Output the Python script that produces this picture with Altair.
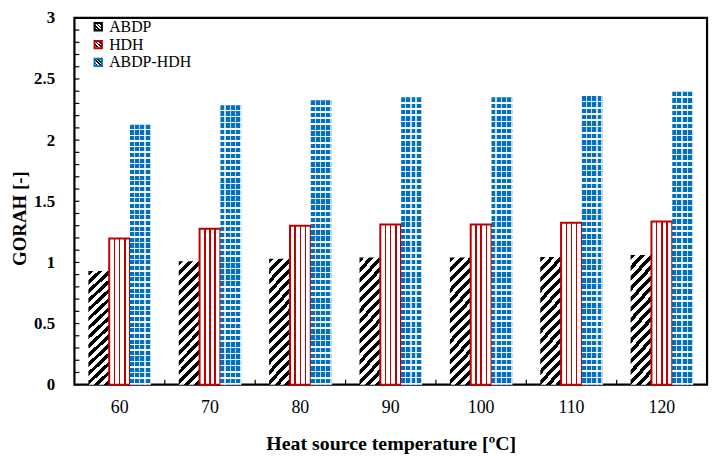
import altair as alt
import pandas as pd

temps = [60, 70, 80, 90, 100, 110, 120]
series = ["ABDP", "HDH", "ABDP-HDH"]
abdp = [0.93, 1.01, 1.03, 1.04, 1.04, 1.045, 1.06]
hdh = [1.195, 1.275, 1.30, 1.31, 1.31, 1.325, 1.335]
combo = [2.125, 2.285, 2.325, 2.35, 2.35, 2.36, 2.395]
y_tick_vals = [0.0, 0.1, 0.2, 0.3, 0.4, 0.5, 0.6, 0.7, 0.8, 0.9, 1.0,
               1.1, 1.2, 1.3, 1.4, 1.5, 1.6, 1.7, 1.8, 1.9, 2.0,
               2.1, 2.2, 2.3, 2.4, 2.5, 2.6, 2.7, 2.8, 2.9, 3.0]
y_label_vals = [0, 0.5, 1, 1.5, 2, 2.5, 3]
x_tick_cats = [70, 80, 90, 100, 110, 120]

rows = []
for name, vals in zip(series, [abdp, hdh, combo]):
    for t, v in zip(temps, vals):
        rows.append({"temp": t, "series": name, "value": v})
df = pd.DataFrame(rows)

BLUE = "#0070C0"
RED = "#C00000"
FONT = "Liberation Serif"
TOP = 8
W, H = 638, 370


def stripe_stops(c_on, c_off, periods, frac):
    stops = []
    for k in range(periods):
        a = k / periods
        b = (k + frac) / periods
        c = (k + 1) / periods
        stops += [{"offset": a, "color": c_on}, {"offset": b, "color": c_on},
                  {"offset": b, "color": c_off}, {"offset": c, "color": c_off}]
    return stops


abdp_fill = {"gradient": "linear", "x1": 0, "y1": 0, "x2": 0.2, "y2": 1.17,
             "stops": stripe_stops("black", "white", 15, 0.5)}

hdh_stops = []
for c in [0.0, 0.25, 0.5, 0.75, 1.0]:
    a = max(0.0, c - 0.035)
    b = min(1.0, c + 0.035)
    if hdh_stops:
        hdh_stops.append({"offset": a, "color": "white"})
    hdh_stops += [{"offset": a, "color": RED}, {"offset": b, "color": RED}]
    if b < 1.0:
        hdh_stops.append({"offset": b, "color": "white"})
hdh_fill = {"gradient": "linear", "x1": 0, "y1": 0, "x2": 1, "y2": 0, "stops": hdh_stops}

blue_a_fill = {"gradient": "linear", "x1": 0, "y1": 0, "x2": 0, "y2": 1,
               "stops": stripe_stops(BLUE, "white", 46, 0.72)}
blue_b_fill = {"gradient": "linear", "x1": 0, "y1": 0, "x2": 1, "y2": 0,
               "stops": stripe_stops("rgba(255,255,255,0)", "rgba(255,255,255,0.75)", 4, 0.75)}

x_enc = alt.X("temp:O", scale=alt.Scale(domain=temps, paddingInner=0, paddingOuter=0),
              axis=alt.Axis(title="Heat source temperature [ºC]", labelAngle=0,
                            labelFontSize=18, labelFont=FONT, labelPadding=14,
                            titleFont=FONT, titleFontSize=20, titleFontWeight="bold",
                            titlePadding=17, ticks=False, domain=False, grid=False,
                            labelColor="black", titleColor="black"))
y_enc = alt.Y("value:Q", scale=alt.Scale(domain=[0, 3], nice=False),
              axis=alt.Axis(title="GORAH [-]", values=y_label_vals, format="~g",
                            labelFontSize=17, labelFont=FONT, labelFontWeight="bold",
                            labelPadding=20, titleFont=FONT, titleFontSize=19,
                            titleFontWeight="bold", titlePadding=4, titleY=218 - 8 - TOP,
                            ticks=False, domain=False, grid=False,
                            labelColor="black", titleColor="black"))
xoff = alt.XOffset("series:N", scale=alt.Scale(domain=series, paddingInner=0, paddingOuter=0.671))
stroke_enc = alt.Stroke("series:N",
                        scale=alt.Scale(domain=series, range=["black", RED, BLUE]),
                        legend=alt.Legend(title=None, orient="none", legendX=16, legendY=1,
                                          labelFont=FONT, labelFontSize=16, labelColor="black",
                                          symbolType="square", symbolSize=55,
                                          symbolStrokeWidth=2, rowPadding=2,
                                          labelOffset=3, padding=0))

base = alt.Chart(df)

l_abdp = base.transform_filter(alt.datum.series == "ABDP").mark_bar(
    fill=abdp_fill, strokeWidth=0).encode(x=x_enc, y=y_enc, xOffset=xoff, stroke=stroke_enc)
l_hdh = base.transform_filter(alt.datum.series == "HDH").mark_bar(
    fill=hdh_fill, strokeWidth=2).encode(x=x_enc, y=y_enc, xOffset=xoff, stroke=stroke_enc)
l_blue_a = base.transform_filter(alt.datum.series == "ABDP-HDH").mark_bar(
    fill=blue_a_fill, strokeWidth=0).encode(x=x_enc, y=y_enc, xOffset=xoff, stroke=stroke_enc)
l_blue_b = base.transform_filter(alt.datum.series == "ABDP-HDH").mark_bar(
    fill=blue_b_fill, strokeWidth=0).encode(x=x_enc, y=y_enc, xOffset=xoff)

yt = alt.Chart(pd.DataFrame({"value": y_tick_vals})).mark_rule(
    color="black", strokeWidth=1.2).encode(y=alt.Y("value:Q"), x=alt.value(0), x2=alt.value(5))
xt = alt.Chart(pd.DataFrame({"temp": x_tick_cats})).mark_rule(
    color="black", strokeWidth=1.2).encode(x=alt.X("temp:O", bandPosition=0),
                                           y=alt.value(H), y2=alt.value(H - 5))

chart = alt.layer(l_abdp, l_hdh, l_blue_a, l_blue_b, yt, xt).properties(
    width=W, height=H,
    autosize=alt.AutoSizeParams(type="none"),
    padding={"left": 67, "top": TOP, "right": 5, "bottom": 70},
).configure(background="white").configure_view(stroke="black", strokeWidth=2.2)

chart.save("out.html", embed_options={"renderer": "svg", "actions": False})
